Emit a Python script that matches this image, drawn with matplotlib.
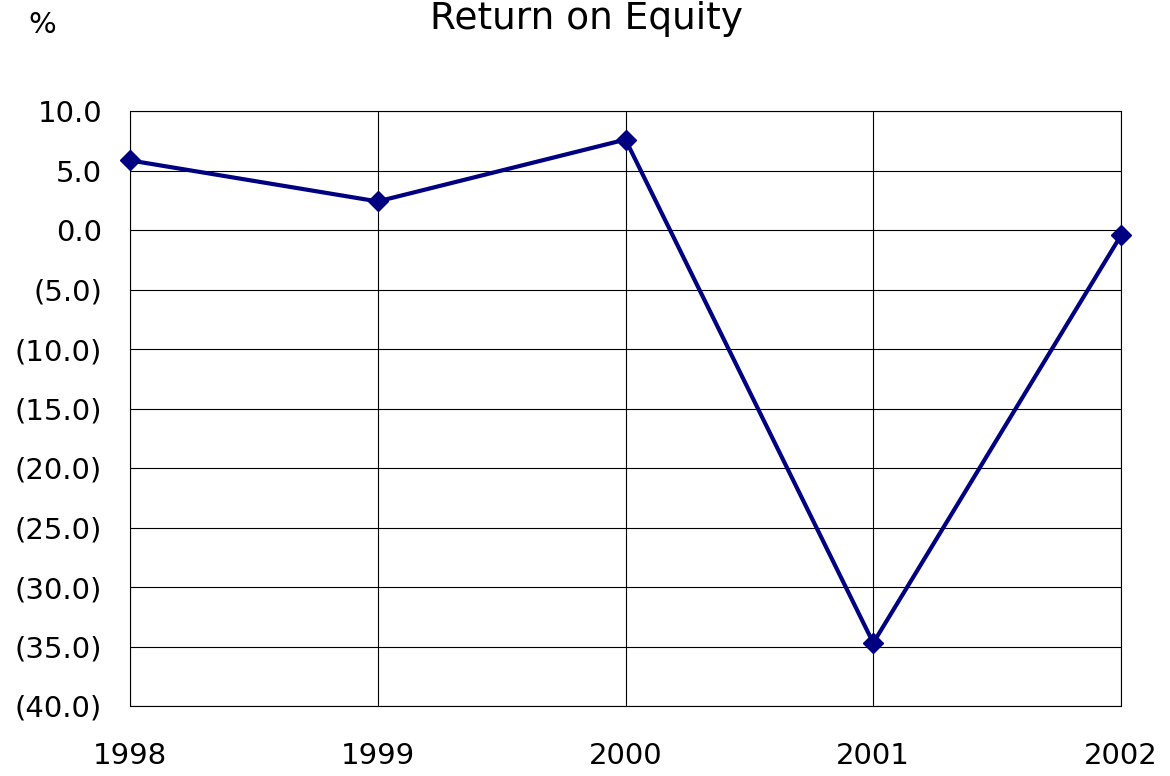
import matplotlib
matplotlib.use('Agg')
import matplotlib.pyplot as plt

years = ['1998', '1999', '2000', '2001', '2002']
roe = [5.85, 2.4, 7.6, -34.7, -0.45]
y_ticks = [10, 5, 0, -5, -10, -15, -20, -25, -30, -35, -40]

def fmt(v):
    return '(%.1f)' % abs(v) if v < 0 else '%.1f' % v

fig = plt.figure(figsize=(11.7, 7.76), dpi=100)
ax = fig.add_axes([130/1170, 1 - 706/776, (1121-130)/1170, (706-111)/776])

x = list(range(len(years)))
ax.plot(x, roe, color='#000080', linewidth=3, marker='D', markersize=10, clip_on=False, zorder=3)

ax.set_xlim(0, len(years) - 1)
ax.set_ylim(-40, 10)
ax.set_xticks(x)
ax.set_xticklabels(years)
ax.set_yticks(y_ticks)
ax.set_yticklabels([fmt(v) for v in y_ticks])
ax.grid(True, color='black', linewidth=0.8)
for s in ax.spines.values():
    s.set_linewidth(0.8)
ax.tick_params(axis='both', labelsize=21, length=0)
ax.tick_params(axis='x', pad=26)
ax.tick_params(axis='y', pad=20)

fig.text(587/1170, 1 - 1/776, 'Return on Equity', ha='center', va='top', fontsize=27)
fig.text(42/1170, 1 - 25/776, '%', ha='center', va='center', fontsize=21)

fig.savefig('out.png', dpi=100)
